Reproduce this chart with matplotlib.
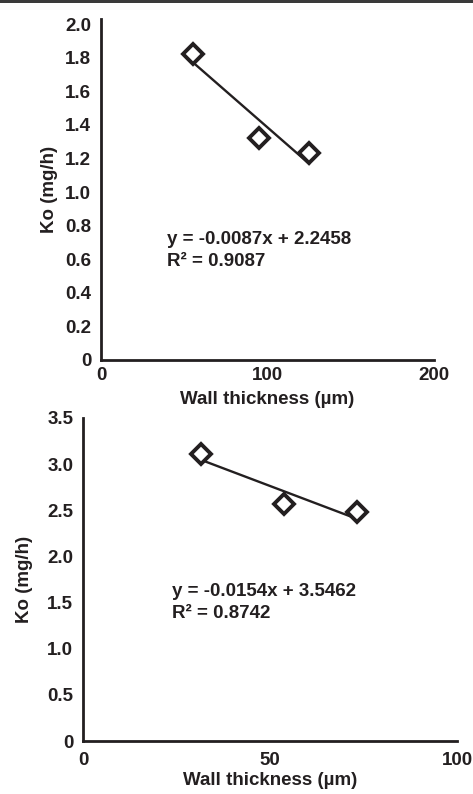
import numpy as np
import matplotlib
matplotlib.use("Agg")
import matplotlib.pyplot as plt
from matplotlib.patches import Rectangle

plt.rcParams['font.family'] = ['Liberation Sans', 'DejaVu Sans']
plt.rcParams['font.weight'] = 'bold'

# Top panel data
x1 = [55, 95, 125]
y1 = [1.82, 1.32, 1.23]
eq1 = "y = -0.0087x + 2.2458\nR² = 0.9087"
xticks1 = [0, 100, 200]
yticks1 = [0, 0.2, 0.4, 0.6, 0.8, 1.0, 1.2, 1.4, 1.6, 1.8, 2.0]
yticklabels1 = ["0", "0.2", "0.4", "0.6", "0.8", "1.0", "1.2", "1.4", "1.6", "1.8", "2.0"]

# Bottom panel data
x2 = [31.5, 53.8, 73.2]
y2 = [3.11, 2.57, 2.48]
eq2 = "y = -0.0154x + 3.5462\nR² = 0.8742"
xticks2 = [0, 50, 100]
yticks2 = [0, 0.5, 1.0, 1.5, 2.0, 2.5, 3.0, 3.5]
yticklabels2 = ["0", "0.5", "1.0", "1.5", "2.0", "2.5", "3.0", "3.5"]

xlabel = "Wall thickness (µm)"
ylabel = "Ko (mg/h)"
ink = '#231f20'
fs = 13.5

fig = plt.figure(figsize=(4.73, 7.94), dpi=100)
fig.patches.append(Rectangle((0, 1 - 3/794), 1, 3/794, transform=fig.transFigure,
                             facecolor='#3a3a3a', edgecolor='none'))

ax1 = fig.add_axes([101/473, 1 - 360/794, 333/473, 341/794])
ax2 = fig.add_axes([83/473, 1 - 741/794, 374/473, 323/794])

def style(ax, x, y, xt, yt, ytl, xmax, ymax, eq, eqpos, xpad, xlpad, ylpad):
    ax.plot(x, y, linestyle='none', marker='D', markersize=10,
            markerfacecolor='white', markeredgecolor=ink, markeredgewidth=2.8, zorder=3)
    k, b = np.polyfit(x, y, 1)
    xs = np.array([min(x), max(x)])
    ax.plot(xs, k * xs + b, color=ink, linewidth=1.7, zorder=2)
    ax.set_xlim(0, xmax)
    ax.set_ylim(0, ymax)
    ax.set_xticks(xt)
    ax.set_xticklabels([str(v) for v in xt])
    ax.set_yticks(yt)
    ax.set_yticklabels(ytl)
    for s in ['top', 'right']:
        ax.spines[s].set_visible(False)
    for s in ['left', 'bottom']:
        ax.spines[s].set_linewidth(2.0)
        ax.spines[s].set_color(ink)
    ax.tick_params(axis='y', length=0, labelsize=fs, colors=ink, pad=7)
    ax.tick_params(axis='x', length=0, labelsize=fs, colors=ink, pad=xpad)
    for lab in ax.get_xticklabels() + ax.get_yticklabels():
        lab.set_fontweight('bold')
    ax.set_xlabel(xlabel, fontsize=fs, fontweight='bold', color=ink, labelpad=xlpad)
    ax.set_ylabel(ylabel, fontsize=fs, fontweight='bold', color=ink, labelpad=ylpad)
    ax.text(eqpos[0], eqpos[1], eq, transform=ax.transAxes, fontsize=fs,
            fontweight='bold', color=ink, va='top', ha='left', linespacing=1.4)

style(ax1, x1, y1, xticks1, yticks1, yticklabels1, 200, 2.03, eq1,
      ((167 - 101) / 333, (360 - 231) / 341), xpad=5, xlpad=5, ylpad=5)
style(ax2, x2, y2, xticks2, yticks2, yticklabels2, 100, 3.5, eq2,
      ((172 - 83) / 374, (741 - 583) / 323), xpad=8, xlpad=2, ylpad=10)

fig.savefig("out.png", dpi=100)
